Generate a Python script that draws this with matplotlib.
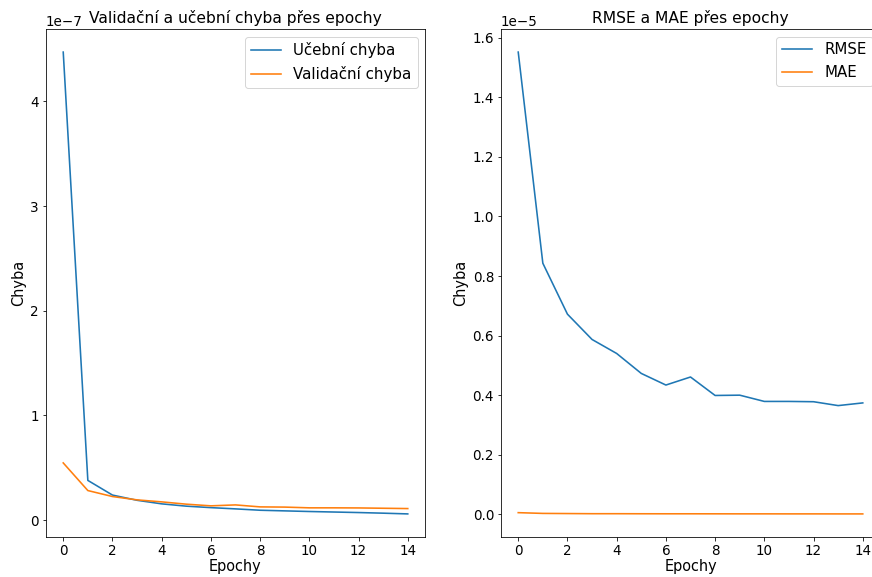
import matplotlib
matplotlib.use("Agg")
import matplotlib.pyplot as plt

# Data
epochs = list(range(15))
train_loss = [4.47, 0.38, 0.24, 0.19, 0.156, 0.134, 0.12, 0.108, 0.095, 0.089,
              0.083, 0.078, 0.073, 0.067, 0.06]
val_loss = [0.547, 0.283, 0.226, 0.194, 0.175, 0.153, 0.137, 0.146, 0.127, 0.125,
            0.118, 0.118, 0.117, 0.114, 0.111]
rmse = [1.552, 0.843, 0.672, 0.587, 0.540, 0.473, 0.434, 0.461, 0.399, 0.400,
        0.379, 0.379, 0.378, 0.365, 0.374]
mae = [0.0055, 0.003, 0.0025, 0.002, 0.002, 0.0018, 0.0017, 0.0017, 0.0016, 0.0015,
       0.0015, 0.0014, 0.0014, 0.0013, 0.0013]

train_loss = [v * 1e-7 for v in train_loss]
val_loss = [v * 1e-7 for v in val_loss]
rmse = [v * 1e-5 for v in rmse]
mae = [v * 1e-5 for v in mae]

W, H = 872, 577
fig = plt.figure(figsize=(W / 72, H / 72), dpi=72)

ax1 = fig.add_axes([46 / W, 1 - 537 / H, 379 / W, 508 / H])
ax2 = fig.add_axes([501 / W, 1 - 537 / H, 379 / W, 508 / H])

ax1.plot(epochs, train_loss, lw=1.6, label='Učební chyba')
ax1.plot(epochs, val_loss, lw=1.6, label='Validační chyba')
ax1.set_title('Validační a učební chyba přes epochy', fontsize=15.5)
ax1.set_xlabel('Epochy', fontsize=14.5, labelpad=1.5)
ax1.set_ylabel('Chyba', fontsize=14.5)
ax1.legend(fontsize=15)

ax2.plot(epochs, rmse, lw=1.6, label='RMSE')
ax2.plot(epochs, mae, lw=1.6, label='MAE')
ax2.set_title('RMSE a MAE přes epochy', fontsize=15.5)
ax2.set_xlabel('Epochy', fontsize=14.5, labelpad=1.5)
ax2.set_ylabel('Chyba', fontsize=14.5)
ax2.legend(fontsize=15)

for ax in (ax1, ax2):
    ax.tick_params(labelsize=13.5)
    ax.yaxis.get_offset_text().set_fontsize(13.5)

fig.savefig('out.png', dpi=72)
